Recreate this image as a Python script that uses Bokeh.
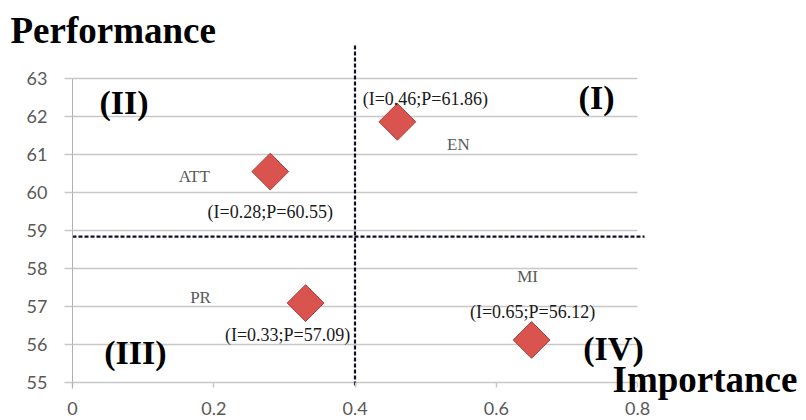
import math
from bokeh.plotting import figure
from bokeh.models import (ColumnDataSource, LabelSet, Label, FixedTicker, LinearAxis,
                          NumeralTickFormatter, Range1d)
from bokeh.core.properties import value
from bokeh.embed import file_html
from bokeh.resources import INLINE

# ---- data ----
names = ["EN", "ATT", "PR", "MI"]
importance = [0.46, 0.28, 0.33, 0.65]
performance = [61.86, 60.55, 57.09, 56.12]
mean_importance = 0.4
mean_performance = 58.84
x_ticks = [0, 0.2, 0.4, 0.6, 0.8]
y_ticks = [55, 56, 57, 58, 59, 60, 61, 62, 63]
quad_text = ["(I)", "(II)", "(III)", "(IV)"]

# ---- label placement (styling) ----
name_dx = [61, -76, -105, -4]
name_dy = [-23, -5, 6, 63]
ann_dx = [28, 0, -18, 1]
ann_dy = [23, -40, -32, 28]
quad_x = [0.742, 0.073, 0.089, 0.766]
quad_y = [62.5, 62.37, 55.79, 55.89]

ann_text = ["(I=%.2f;P=%.2f)" % (i, pp) for i, pp in zip(importance, performance)]

src = ColumnDataSource(dict(x=importance, y=performance, name=names, ann=ann_text,
                            ndx=name_dx, ndy=name_dy, adx=ann_dx, ady=ann_dy))

# frame covers the whole canvas; axes are fixed at x=0 and y=55
p = figure(width=806, height=420, output_backend="svg", toolbar_location=None,
           x_range=Range1d(-0.10195, 1.03929), y_range=Range1d(54.0, 65.0526),
           x_axis_location=None, y_axis_location=None,
           min_border=0)
p.outline_line_color = None
p.background_fill_color = "white"
p.border_fill_color = "white"
p.grid.visible = False

# horizontal gridlines limited to the data area
p.segment(x0=[x_ticks[0]] * len(y_ticks), y0=y_ticks,
          x1=[x_ticks[-1]] * len(y_ticks), y1=y_ticks,
          line_color="#c8c8c8", line_width=1.5)

yaxis = LinearAxis(fixed_location=0, bounds=(54.85, 63), ticker=FixedTicker(ticks=y_ticks),
                   axis_line_color="#b0b0b0", major_tick_line_color="#c8c8c8",
                   major_tick_line_width=1.5, major_tick_in=0, major_tick_out=8,
                   minor_tick_line_color=None, major_label_standoff=17,
                   major_label_text_font="Lato", major_label_text_font_size="18px",
                   major_label_text_color="#595959")
p.add_layout(yaxis, "left")

xaxis = LinearAxis(fixed_location=55, bounds=(0, 0.8), ticker=FixedTicker(ticks=x_ticks),
                   formatter=NumeralTickFormatter(format="0.[0]"),
                   axis_line_color=None, major_tick_line_color="#c8c8c8",
                   major_tick_line_width=1.5, major_tick_in=0, major_tick_out=5,
                   minor_tick_line_color=None, major_label_standoff=15,
                   major_label_text_font="Lato", major_label_text_font_size="18px",
                   major_label_text_color="#595959")
p.add_layout(xaxis, "below")

# mean lines
p.segment(x0=[mean_importance], y0=[63.87], x1=[mean_importance], y1=[54.87],
          line_dash="4 2", line_width=2.2, line_color="#10102a")
p.segment(x0=[0], y0=[mean_performance], x1=[0.81], y1=[mean_performance],
          line_dash="4 2", line_width=2.2, line_color="#10102a")

# points
p.scatter("x", "y", source=src, marker="square", size=26, angle=math.pi / 4,
          fill_color="#d9534f", line_color="#b23c38", line_width=1)

p.add_layout(LabelSet(x="x", y="y", text="name", source=src, x_offset="ndx",
                      y_offset="ndy", text_align="center", text_baseline="middle",
                      text_font=value("Liberation Serif"), text_font_size="17px",
                      text_color="#595959"))
p.add_layout(LabelSet(x="x", y="y", text="ann", source=src, x_offset="adx",
                      y_offset="ady", text_align="center", text_baseline="middle",
                      text_font=value("Liberation Serif"), text_font_size="18px",
                      text_color="#1a1a1a"))

for t, qx, qy in zip(quad_text, quad_x, quad_y):
    p.add_layout(Label(x=qx, y=qy, text=t, text_align="center", text_baseline="middle",
                       text_font="Liberation Serif", text_font_style="bold",
                       text_font_size="34px", text_color="black"))

p.add_layout(Label(x=-0.0878, y=64.27, text="Performance", text_align="left",
                   text_baseline="alphabetic", text_font="Liberation Serif",
                   text_font_style="bold", text_font_size="37px", text_color="black"))
p.add_layout(Label(x=0.7646, y=55.08, text="Importance", text_align="left",
                   text_baseline="alphabetic", text_font="Liberation Serif",
                   text_font_style="bold", text_font_size="37px", text_color="black"))

open("out.html", "w").write(file_html(p, INLINE))
